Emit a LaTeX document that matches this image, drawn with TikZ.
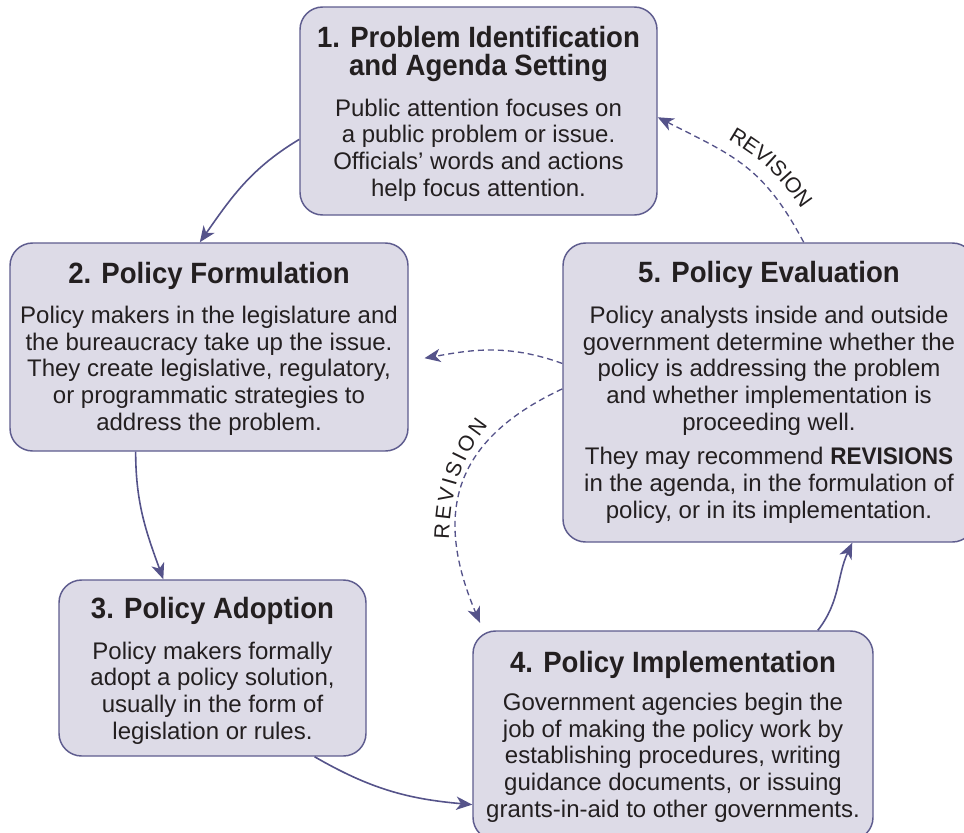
\documentclass[tikz,border=0pt]{standalone}
\usepackage{fontspec}
\setmainfont{Liberation Sans}
\newfontfamily\headf{Liberation Sans}[FakeStretch=0.94]
\newfontfamily\revf{Liberation Sans}
\usetikzlibrary{arrows.meta,decorations.text}
\definecolor{boxfill}{HTML}{DDDBE7}
\definecolor{boxline}{HTML}{5E5C8E}
\definecolor{arr}{HTML}{55538A}
\definecolor{ink}{HTML}{231F20}
\tikzset{
  stagebox/.style={draw=boxline, fill=boxfill, line width=1.1pt, rounded corners=17pt, inner sep=0pt},
  ttl/.style={text=ink, font=\headf\bfseries\fontsize{22}{21}\selectfont, align=center, anchor=base, inner sep=0pt},
  bdy/.style={text=ink, font=\fontsize{18}{20}\selectfont, align=center, anchor=base, inner sep=0pt},
  flow/.style={draw=arr, line width=1.2pt, -{Stealth[length=12pt,width=10pt,inset=3.5pt]}},
  rev/.style={draw=arr, line width=1pt, dash pattern=on 4.5pt off 3pt, -{Stealth[length=12pt,width=10pt,inset=3.5pt]}},
  revtext/.style={decorate, decoration={text along path, text={|\revf\fontsize{16}{16}\selectfont\color{ink}|REVISION}, text align=fit to path}}
}
\begin{document}
\begin{tikzpicture}[x=0.75pt,y=0.75pt]
\useasboundingbox (0,0) rectangle (964,-832);
% boxes
\node[stagebox, minimum width=357*0.75pt, minimum height=208*0.75pt] (b1) at (478.5,-111) {};
\node[stagebox, minimum width=398*0.75pt, minimum height=208*0.75pt] (b2) at (209,-347) {};
\node[stagebox, minimum width=307*0.75pt, minimum height=176*0.75pt] (b3) at (212.5,-668) {};
\node[stagebox, minimum width=400*0.75pt, minimum height=209*0.75pt] (b4) at (673,-735.5) {};
\node[stagebox, minimum width=412*0.75pt, minimum height=299*0.75pt] (b5) at (769,-392.5) {};
% texts (anchored at the baseline of the last line)
\node[ttl] (t1) at (478.5,-75) {1. Problem Identification\\and Agenda Setting};
\node[bdy] (d1) at (478.5,-196) {Public attention focuses on\\a public problem or issue.\\Officials’ words and actions\\help focus attention.};
\node[ttl] (t2) at (209,-283) {2. Policy Formulation};
\node[bdy] (d2) at (209,-430) {Policy makers in the legislature and\\the bureaucracy take up the issue.\\They create legislative, regulatory,\\or programmatic strategies to\\address the problem.};
\node[ttl] (t3) at (212.5,-618) {3. Policy Adoption};
\node[bdy] (d3) at (212.5,-739) {Policy makers formally\\adopt a policy solution,\\usually in the form of\\legislation or rules.};
\node[ttl] (t4) at (673,-672) {4. Policy Implementation};
\node[bdy] (d4) at (673,-817) {Government agencies begin the\\job of making the policy work by\\establishing procedures, writing\\guidance documents, or issuing\\grants-in-aid to other governments.};
\node[ttl] (t5) at (769,-282) {5. Policy Evaluation};
\node[bdy] (d5) at (769,-430) {Policy analysts inside and outside\\government determine whether the\\policy is addressing the problem\\and whether implementation is\\proceeding well.};
\node[bdy] (e5) at (769,-518) {They may recommend {\headf\bfseries REVISIONS}\\in the agenda, in the formulation of\\policy, or in its implementation.};
% main cycle
\draw[flow] (b1.189.2) to[out=211,in=55] (b2.95);
\draw[flow] (b2.235.7) to[out=270,in=110] (b3.119.4);
\draw[flow] (b3.319.6) to[out=-30,in=175] (b4.199.2);
\draw[flow] (b4.36.9) to[out=52,in=245] (b5.299.3);
% revisions
\draw[rev] (b5.77.6) to[out=118,in=-27,looseness=1.15] (b1.358.1);
\draw[rev, shorten >=12pt] (b5.172.4) to[out=160,in=10] (b2.356.8);
\draw[rev, shorten >=6pt] (b5.179.3) to[out=205,in=113,looseness=1.25] (b4.151.2);
\coordinate (r1a) at (728,-140);
\coordinate (r1b) at (801,-208);
\coordinate (r2a) at (449,-539);
\coordinate (r2b) at (488,-425);
\path[revtext] (r1a) to[out=-30,in=125] (r1b);
\path[revtext] (r2a) to[out=88,in=232] (r2b);
\end{tikzpicture}
\end{document}
